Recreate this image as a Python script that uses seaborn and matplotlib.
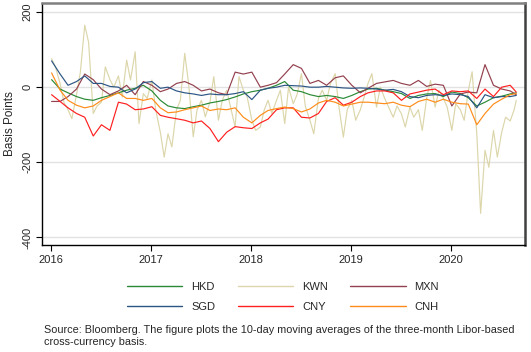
import numpy as np
import pandas as pd
import matplotlib
matplotlib.use("Agg")
import matplotlib.pyplot as plt
import seaborn as sns
from matplotlib.lines import Line2D

sns.set_theme(style="white")
plt.rcParams['font.family'] = ['Liberation Sans', 'DejaVu Sans']

# ---------------- data ----------------
month_dates = list(pd.date_range('2016-01-01', '2020-08-01', freq='MS') + pd.Timedelta(days=3)) \
    + [pd.Timestamp('2020-08-26')]
semi_dates = list(pd.date_range('2016-01-01', '2020-08-16', freq='SMS') + pd.Timedelta(days=3)) \
    + [pd.Timestamp('2020-08-26')]

hkd = [20, -5, -15, -25, -32, -35, -28, -22, -15, -8,
       -3, 5, -10, -35, -50, -55, -57, -52, -48, -42,
       -38, -33, -26, -18, -12, -8, -3, 5, 15, -8,
       -12, -20, -25, -22, -25, -30, -22, -12, -5, -3,
       -8, -12, -17, -30, -22, -18, -17, -25, -13, -17,
       -28, -50, -40, -28, -24, -18, -15]

sgd = [70, 35, 5, 15, 30, 10, 10, 2, 0, -15,
       -5, 12, 15, -3, 0, -10, -15, -18, -22, -18,
       -20, -20, -17, -12, -33, -8, -3, 0, 5, 4,
       3, 0, 0, 2, 0, -2, -3, -2, -3, -5,
       -8, -6, -12, -25, -28, -22, -20, -22, -18, -20,
       -25, -55, -20, -28, -25, -25, -22]

mxn = [-38, -38, -25, -5, 35, 20, -5, -20, -10, 5,
       -20, 15, 5, -12, -5, 10, 15, 5, -10, -5,
       -15, -20, 40, 35, 40, 0, 5, 12, 35, 60,
       50, 10, 18, 5, 25, 30, 5, -15, -3, 10,
       14, 18, 10, 5, 18, 2, 8, 5, -50, -18,
       -13, -15, 60, 5, -5, -10, -20]

cny = [-20, -38, -55, -70, -80, -130, -100, -115, -40, -45,
       -60, -58, -52, -75, -80, -84, -88, -95, -90, -110,
       -145, -120, -105, -108, -110, -95, -85, -60, -55, -55,
       -80, -82, -70, -38, -28, -48, -40, -25, -15, -10,
       -10, -15, -35, -18, -13, -8, -5, -20, -10, -12,
       -10, -30, -5, -25, 0, 5, -13]

cnh = [38, -8, -35, -48, -55, -50, -35, -25, -15, -30,
       -30, -35, -30, -55, -68, -66, -60, -55, -50, -62,
       -58, -60, -55, -80, -95, -75, -62, -57, -53, -57,
       -66, -58, -42, -35, -40, -50, -45, -40, -40, -42,
       -44, -40, -48, -52, -38, -32, -40, -32, -40, -44,
       -45, -100, -70, -45, -32, -20, -17]

kwn = [76, 54, 10, -40, -60, -84, -20, 40, 165, 120,
       -70, -50, -40, 54, 20, 0, 30, -26, 72, 19,
       94, -97, -17, -30, 19, -60, -120, -186, -124, -159,
       -60, -35, 90, 10, -132, -60, -35, -79, -40, 28,
       -88, -35, -8, -52, -106, 28, -8, -26, -88, -115,
       -106, -61, -35, -70, -35, -8, -97, 0, -44, -20,
       36, -50, -88, -124, -30, -8, -35, 10, 36, -53,
       -133, -60, -35, -88, -60, -26, 10, 36, -53, 0,
       -30, -53, -80, -50, -71, -106, -53, -80, -60, -115,
       -30, 18, -53, -8, -30, -53, -115, -44, -60, -88,
       -10, 41, -123, -336, -168, -213, -115, -186, -120, -80,
       -90, -61, -35]

year_ticks = ['2016', '2017', '2018', '2019', '2020']
y_ticks = [-400, -200, 0, 200]

series_names = ['HKD', 'KWN', 'MXN', 'SGD', 'CNY', 'CNH']
series_colors = {'HKD': '#2a8a36', 'KWN': '#dcd6aa', 'MXN': '#93404e',
                 'SGD': '#2c5585', 'CNY': '#ff1f1f', 'CNH': '#ff8c1a'}

frames = {
    'HKD': pd.DataFrame({'date': month_dates, 'bp': hkd}),
    'KWN': pd.DataFrame({'date': semi_dates, 'bp': kwn}),
    'MXN': pd.DataFrame({'date': month_dates, 'bp': mxn}),
    'SGD': pd.DataFrame({'date': month_dates, 'bp': sgd}),
    'CNY': pd.DataFrame({'date': month_dates, 'bp': cny}),
    'CNH': pd.DataFrame({'date': month_dates, 'bp': cnh}),
}

# ---------------- figure ----------------
W, H = 531, 352
fig = plt.figure(figsize=(W / 100, H / 100), dpi=100)
ax = fig.add_axes([42 / W, 1 - 245 / H, (525 - 42) / W, (245 - 3) / H])

draw_order = ['KWN', 'HKD', 'MXN', 'SGD', 'CNY', 'CNH']
for name in draw_order:
    sns.lineplot(data=frames[name], x='date', y='bp', ax=ax,
                 color=series_colors[name], linewidth=0.85, legend=False)

ax.set_xlim(pd.Timestamp('2015-11-30'), pd.Timestamp('2020-09-27'))
ax.set_ylim(-420, 224)
ax.set_xticks([pd.Timestamp(f'{y}-01-01') for y in year_ticks])
ax.set_xticklabels(year_ticks)
ax.set_yticks(y_ticks)
ax.set_yticklabels([str(v) for v in y_ticks], rotation=90, va='center')
ax.set_xlabel('')
ax.set_ylabel('Basis Points', fontsize=8.5)
ax.yaxis.set_label_coords(-0.054, 0.5)

ax.yaxis.grid(True, color='#e2e2e2', linewidth=1.0)
ax.xaxis.grid(False)
ax.set_axisbelow(True)

ax.tick_params(axis='both', which='major', bottom=True, left=True, direction='out',
               length=4.5, width=0.8, color='black', labelsize=8, pad=2.5)

for s in ['left', 'bottom']:
    ax.spines[s].set_color('black')
    ax.spines[s].set_linewidth(1.0)
ax.spines['top'].set_color('#808080')
ax.spines['top'].set_linewidth(1.8)
ax.spines['right'].set_color('#404040')
ax.spines['right'].set_linewidth(1.8)

legend_order = ['HKD', 'SGD', 'KWN', 'CNY', 'MXN', 'CNH']
handles = [Line2D([0], [0], color=series_colors[n], linewidth=1.0) for n in legend_order]
fig.legend(handles, legend_order, ncol=3, loc='center',
           bbox_to_anchor=(283 / W, 1 - 297 / H), frameon=False, fontsize=8,
           handlelength=5.0, handletextpad=0.8, columnspacing=2.0, labelspacing=0.9)

fig.text(44 / W, 1 - 325 / H,
         "Source: Bloomberg. The figure plots the 10-day moving averages of the three-month Libor-based\n"
         "cross-currency basis.",
         fontsize=7.8, va='top', ha='left', linespacing=1.2)

fig.savefig('out.png', dpi=100)
